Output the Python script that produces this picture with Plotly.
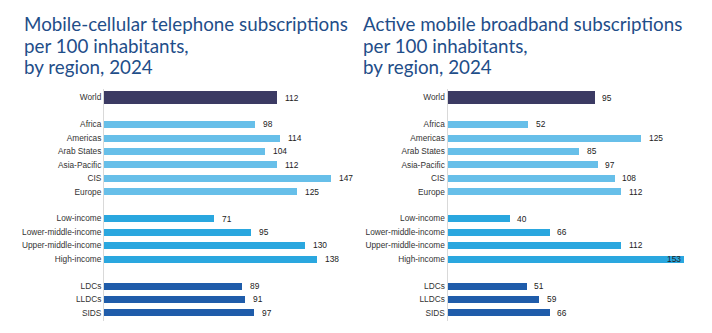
import plotly.graph_objects as go

# Row layout: one category per row, with blank rows separating the groups
categories = ["World", "", "Africa", "Americas", "Arab States", "Asia-Pacific", "CIS", "Europe", "",
              "Low-income", "Lower-middle-income", "Upper-middle-income", "High-income", "",
              "LDCs", "LLDCs", "SIDS"]
groups = ["world", None, "region", "region", "region", "region", "region", "region", None,
          "income", "income", "income", "income", None,
          "special", "special", "special"]

cellular = [112, None, 98, 114, 104, 112, 147, 125, None, 71, 95, 130, 138, None, 89, 91, 97]
broadband = [95, None, 52, 125, 85, 97, 108, 112, None, 40, 66, 112, 153, None, 51, 59, 66]

titles = [["Mobile-cellular telephone subscriptions", "per 100 inhabitants,", "by region, 2024"],
          ["Active mobile broadband subscriptions", "per 100 inhabitants,", "by region, 2024"]]

group_colors = {"world": "#3b3a63", "region": "#67bfe9", "income": "#2aa7df", "special": "#1f5caa"}
group_widths = {"world": 0.96, "region": 0.52, "income": 0.52, "special": 0.52}

W, H = 712, 333
TICK_FONT = dict(family="Liberation Sans Narrow, Arial Narrow, Liberation Sans, Arial", size=8.3, color="#333333")
VALUE_FONT = dict(family="Liberation Sans Narrow, Arial Narrow, Liberation Sans, Arial", size=8.4, color="#222222")
TITLE_FONT = dict(family="Lato, Noto Sans, sans-serif", size=18.8, color="#1f4e89")
TITLE_LINE_TOPS = [10, 31.5, 53]  # px from the top of the page

fig = go.Figure()

rows = [i for i, g in enumerate(groups) if g is not None]
tick_text = [categories[i] for i in rows]

panels = [
    dict(values=cellular, xaxis="x", yaxis="y", x0=104, x1=360, title_x=21.5),
    dict(values=broadband, xaxis="x2", yaxis="y2", x0=447.5, x1=700, title_x=360.5),
]

scale = 1.545  # pixels per unit, shared by both panels
annotations = []
for p, title in zip(panels, titles):
    ys = rows
    xs = [p["values"][i] for i in rows]
    fig.add_trace(go.Bar(
        orientation="h", x=xs, y=ys,
        marker=dict(color=[group_colors[groups[i]] for i in rows], line=dict(width=0)),
        width=[group_widths[groups[i]] for i in rows],
        xaxis=p["xaxis"], yaxis=p["yaxis"], hoverinfo="skip", showlegend=False,
    ))
    panel_px = p["x1"] - p["x0"]
    p["xmax"] = panel_px / scale
    # value labels sit just past the bar end; if they would run off the panel they go inside
    for y, v in zip(ys, xs):
        inside = (v * scale + 24) > panel_px
        annotations.append(dict(
            x=v, y=y, xref=p["xaxis"], yref=p["yaxis"], text=str(v), showarrow=False,
            xanchor="right" if inside else "left", xshift=-1 if inside else 6,
            font=VALUE_FONT,
        ))
    for line, top in zip(title, TITLE_LINE_TOPS):
        annotations.append(dict(
            x=p["title_x"] / W, y=1 - top / H, xref="paper", yref="paper", text=line,
            showarrow=False, xanchor="left", yanchor="top", align="left", font=TITLE_FONT,
        ))

ybottom = (H - 320.8) / H
ytop = (H - 88.8) / H

axis_common = dict(showgrid=False, zeroline=False, showticklabels=False, showline=False, fixedrange=True)
yaxis_common = dict(
    range=[16.6, -0.65], tickmode="array", tickvals=rows, ticktext=tick_text,
    showgrid=False, zeroline=False, showline=True, linecolor="#d9d9d9", linewidth=1,
    ticks="", tickfont=TICK_FONT, domain=[ybottom, ytop], fixedrange=True,
)

fig.update_layout(
    width=W, height=H, margin=dict(l=0, r=0, t=0, b=0),
    paper_bgcolor="white", plot_bgcolor="white",
    bargap=0,
    xaxis=dict(domain=[panels[0]["x0"] / W, panels[0]["x1"] / W], range=[0, panels[0]["xmax"]], anchor="y", **axis_common),
    yaxis=dict(anchor="x", **yaxis_common),
    xaxis2=dict(domain=[panels[1]["x0"] / W, panels[1]["x1"] / W], range=[0, panels[1]["xmax"]], anchor="y2", **axis_common),
    yaxis2=dict(anchor="x2", **yaxis_common),
    annotations=annotations,
)

fig.write_html("out.html")
